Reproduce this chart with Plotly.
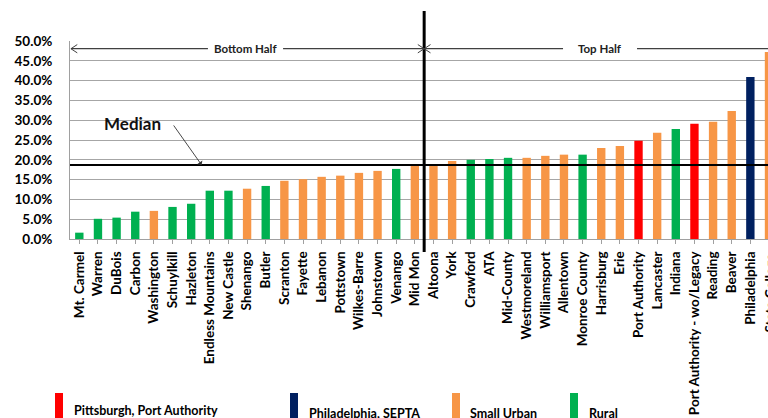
import plotly.graph_objects as go

# Share of trips by system, sorted ascending
agencies = [
    "Mt. Carmel", "Warren", "DuBois", "Carbon", "Washington", "Schuylkill",
    "Hazleton", "Endless Mountains", "New Castle", "Shenango", "Butler",
    "Scranton", "Fayette", "Lebanon", "Pottstown", "Wilkes-Barre", "Johnstown",
    "Venango", "Mid Mon", "Altoona", "York", "Crawford", "ATA", "Mid-County",
    "Westmoreland", "Williamsport", "Allentown", "Monroe County", "Harrisburg",
    "Erie", "Port Authority", "Lancaster", "Indiana",
    "Port Authority - wo/Legacy", "Reading", "Beaver", "Philadelphia",
    "State College",
]
values = [
    1.6, 5.1, 5.4, 6.9, 7.1, 8.1, 8.9, 12.2, 12.2, 12.7, 13.4, 14.7, 15.1,
    15.7, 16.0, 16.7, 17.2, 17.7, 18.5, 18.8, 19.7, 20.0, 20.2, 20.5, 20.5,
    21.0, 21.3, 21.3, 23.0, 23.5, 24.8, 26.8, 27.8, 29.1, 29.6, 32.3, 40.9,
    47.2,
]
groups = [
    "Rural", "Rural", "Rural", "Rural", "Small Urban", "Rural", "Rural",
    "Rural", "Rural", "Small Urban", "Rural", "Small Urban", "Small Urban",
    "Small Urban", "Small Urban", "Small Urban", "Small Urban", "Rural",
    "Small Urban", "Small Urban", "Small Urban", "Rural", "Rural", "Rural",
    "Small Urban", "Small Urban", "Small Urban", "Rural", "Small Urban",
    "Small Urban", "Pittsburgh", "Small Urban", "Rural", "Pittsburgh",
    "Small Urban", "Small Urban", "Philadelphia", "Small Urban",
]
median_value = 18.7
split_index = 18.5  # boundary between bottom and top half

group_colors = {
    "Pittsburgh": "#FF0000",
    "Philadelphia": "#002060",
    "Small Urban": "#F79646",
    "Rural": "#00B050",
}
legend_items = [
    ("Pittsburgh", "Pittsburgh, Port Authority"),
    ("Philadelphia", "Philadelphia, SEPTA"),
    ("Small Urban", "Small Urban"),
    ("Rural", "Rural"),
]

W, H = 768, 418
ML, MR, MT, MB = 70, 0, 41, 179
PW, PH = W - ML - MR, H - MT - MB
FONT = "Lato"
LABEL_SIZE = 13.5


def px_x(px):
    return (px - ML) / PW


def px_y(py):
    return (H - MB - py) / PH


x_idx = list(range(len(agencies)))

fig = go.Figure()
fig.add_trace(go.Bar(
    x=x_idx,
    y=values,
    marker=dict(color=[group_colors[g] for g in groups], line=dict(width=0)),
    width=0.45,
    showlegend=False,
    hoverinfo="skip",
))

shapes = []
annotations = []

# median line
shapes.append(dict(type="line", xref="paper", yref="y", x0=0, x1=1,
                   y0=median_value, y1=median_value,
                   line=dict(color="black", width=2)))
# bottom / top split
shapes.append(dict(type="line", xref="x", yref="paper", x0=split_index,
                   x1=split_index, y0=px_y(252), y1=px_y(11),
                   line=dict(color="black", width=3)))

# half-range arrows
arrow_y = 48.05
arrow_col = "#404040"
seg = [(-0.45, 6.9), (10.93, split_index), (split_index, 25.95), (29.92, 37.2)]
for a, b in seg:
    shapes.append(dict(type="line", xref="x", yref="y", x0=a, x1=b,
                       y0=arrow_y, y1=arrow_y,
                       line=dict(color=arrow_col, width=1.2)))
hx, hy = 0.34, 1.05
for tip, d in [(-0.45, 1), (split_index, -1), (split_index, 1)]:
    shapes.append(dict(
        type="path", xref="x", yref="y",
        path=f"M {tip + d*hx},{arrow_y + hy} L {tip},{arrow_y} L {tip + d*hx},{arrow_y - hy}",
        line=dict(color=arrow_col, width=1)))

annotations.append(dict(x=8.93, y=arrow_y, xref="x", yref="y", text="Bottom Half",
                        showarrow=False, xanchor="center",
                        font=dict(family=FONT, size=11.5, color="#222",
                                  weight="bold")))
annotations.append(dict(x=27.93, y=arrow_y, xref="x", yref="y", text="Top Half",
                        showarrow=False, xanchor="center",
                        font=dict(family=FONT, size=11.5, color="#222",
                                  weight="bold")))

# median callout
annotations.append(dict(x=px_x(132), y=px_y(123), xref="paper", yref="paper",
                        text="Median", showarrow=False,
                        xanchor="center", yanchor="middle",
                        font=dict(family=FONT, size=17, color="#111", weight="bold")))
annotations.append(dict(x=6.56, y=median_value, xref="x", yref="y", text="",
                        showarrow=True, ax=-29, ay=-41, arrowhead=1, arrowsize=1.2,
                        arrowwidth=0.9, arrowcolor="#333"))

# clipped label for the last category
annotations.append(dict(x=px_x(769), y=px_y(252), xref="paper", yref="paper",
                        text=agencies[-1], textangle=-90, showarrow=False,
                        xanchor="center", yanchor="top",
                        font=dict(family=FONT, size=LABEL_SIZE, color="black",
                                  weight="bold")))

# custom legend
legend_px = [(55, 72, 410), (290, 307, 413), (452, 468, 413), (570, 587, 413)]
for (key, label), (bx, tx, ty) in zip(legend_items, legend_px):
    shapes.append(dict(type="rect", xref="paper", yref="paper",
                       x0=px_x(bx), x1=px_x(bx + 8), y0=px_y(425), y1=px_y(393),
                       fillcolor=group_colors[key], line=dict(width=0)))
    annotations.append(dict(x=px_x(tx), y=px_y(ty), xref="paper", yref="paper",
                            text=label, showarrow=False, xanchor="left",
                            yanchor="middle",
                            font=dict(family=FONT, size=12.5, color="black",
                                      weight="bold")))

fig.update_layout(
    width=W, height=H,
    margin=dict(l=ML, r=MR, t=MT, b=MB, pad=0),
    plot_bgcolor="white", paper_bgcolor="white",
    shapes=shapes, annotations=annotations,
    bargap=0.55,
    font=dict(family=FONT),
    xaxis=dict(
        range=[-0.5, -0.5 + PW / 18.64],
        tickmode="array", tickvals=x_idx, ticktext=agencies,
        tickangle=-90, tickson="boundaries",
        ticks="outside", ticklen=4, tickcolor="#A0A0A0",
        showline=True, linecolor="#A0A0A0", linewidth=1,
        showgrid=False, zeroline=False,
        tickfont=dict(family=FONT, size=LABEL_SIZE, color="black", weight="bold"),
        ticklabelstandoff=2,
    ),
    yaxis=dict(
        range=[0, 50], dtick=5, tick0=0,
        tickformat=".1f", ticksuffix="%",
        showgrid=True, gridcolor="#A6A6A6", gridwidth=1.2,
        showline=True, linecolor="#A0A0A0", linewidth=1,
        zeroline=False, ticks="",
        tickfont=dict(family=FONT, size=13.5, color="black", weight="bold"),
        ticklabelstandoff=14,
    ),
)

fig.write_html("out.html")
